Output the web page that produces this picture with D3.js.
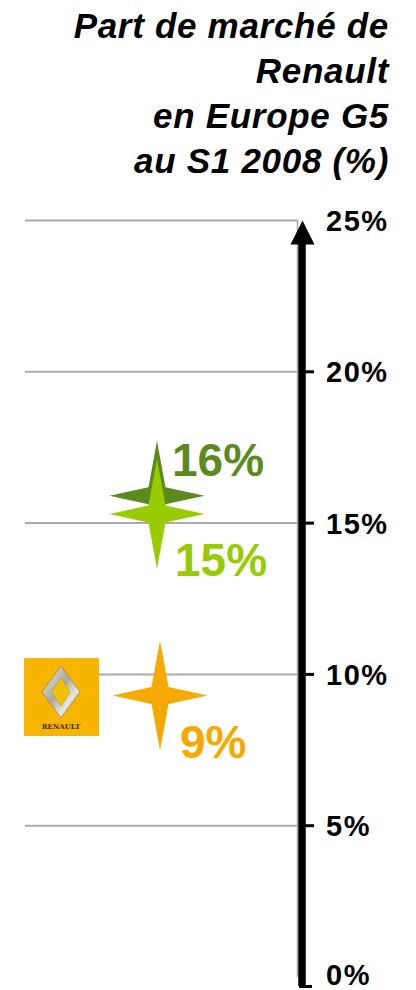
<!DOCTYPE html>
<html>
<head>
<meta charset="utf-8">
<script src="https://cdn.jsdelivr.net/npm/d3@7"></script>
<style>
  html, body { margin: 0; padding: 0; background: #fff; }
  svg { display: block; }
</style>
</head>
<body>
<svg id="chart"></svg>
<script>
// data
const titleLines = ["Part de marché de", "Renault", "en Europe G5", "au S1 2008 (%)"];
const tickValues = [0, 5, 10, 15, 20, 25];
const tickLabels = ["0%", "5%", "10%", "15%", "20%", "25%"];
const markers = ["a", "b", "renault"];
const markerValues = [15.9, 15.3, 9.3];
const markerLabels = ["16%", "15%", "9%"];

const width = 416, height = 990;
const svg = d3.select("#chart").attr("width", width).attr("height", height);

const colors = { a: "#5b8a1f", b: "#99cc00", renault: "#f6aa00" };
const labelPos = { a: [15, -20], b: [18, 62], renault: [20, 62] };
const starX = { a: 157, b: 157, renault: 160 };

const y = d3.scaleLinear().domain([0, 25]).range([977, 220.5]);
const axisX = 302;

// title
svg.append("text")
    .attr("text-anchor", "end")
    .attr("font-family", "Liberation Sans, Arial, sans-serif")
    .attr("font-weight", "bold")
    .attr("font-style", "italic")
    .style("font-size", "35px")
    .style("letter-spacing", "0.7px")
  .selectAll("tspan")
  .data(titleLines)
  .join("tspan")
    .attr("x", 389)
    .attr("y", (d, i) => 38 + i * 45)
    .text(d => d);

// gridlines
svg.selectAll(".grid")
  .data(tickValues.filter(d => d > 0))
  .join("line")
    .attr("class", "grid")
    .attr("x1", 25).attr("x2", axisX - 4)
    .attr("y1", d => y(d)).attr("y2", d => y(d))
    .attr("stroke", "#aaaaaa")
    .attr("stroke-width", 2);

// thin gray vertical line behind the arrow
svg.append("line")
  .attr("x1", axisX - 4.5).attr("x2", axisX - 4.5)
  .attr("y1", y(25)).attr("y2", y(0))
  .attr("stroke", "#aaaaaa").attr("stroke-width", 1.5);

// arrow shaft
svg.append("line")
  .attr("x1", axisX).attr("x2", axisX)
  .attr("y1", y(25) + 20).attr("y2", 986)
  .attr("stroke", "#000").attr("stroke-width", 7.5);

// arrow head
svg.append("path")
  .attr("d", `M${axisX + 0.5},${y(25)} L${axisX - 11.5},${y(25) + 24} L${axisX + 12.5},${y(25) + 24} Z`)
  .attr("fill", "#000");

// foot at the bottom
svg.append("path")
  .attr("d", `M${axisX - 3},987 L${axisX - 1},982 L${axisX + 2},982 L${axisX + 2},985 L${axisX + 10},985 L${axisX + 10},988 L${axisX - 3},988 Z`)
  .attr("fill", "#000");

// ticks
svg.selectAll(".tick")
  .data(tickValues.filter(d => d > 0 && d < 25))
  .join("line")
    .attr("class", "tick")
    .attr("x1", axisX + 3).attr("x2", axisX + 12)
    .attr("y1", d => y(d)).attr("y2", d => y(d))
    .attr("stroke", "#000").attr("stroke-width", 3);

svg.selectAll(".ticklabel")
  .data(tickValues)
  .join("text")
    .attr("class", "ticklabel")
    .attr("x", 326)
    .attr("y", d => y(d))
    .attr("dy", d => d === 0 ? "0.27em" : "0.36em")
    .attr("font-family", "Liberation Sans, Arial, sans-serif")
    .attr("font-weight", "bold")
    .style("font-size", "29px")
    .style("letter-spacing", "1.5px")
    .text((d, i) => tickLabels[i]);

// renault logo
const logo = svg.append("g").attr("transform", "translate(24,658)");
const defs = svg.append("defs");
const grad = defs.append("linearGradient").attr("id", "silver")
  .attr("x1", "0").attr("y1", "0").attr("x2", "1").attr("y2", "1");
grad.append("stop").attr("offset", "0%").attr("stop-color", "#f4f4f0");
grad.append("stop").attr("offset", "45%").attr("stop-color", "#a8a8a0");
grad.append("stop").attr("offset", "70%").attr("stop-color", "#e8e8e0");
grad.append("stop").attr("offset", "100%").attr("stop-color", "#707068");
logo.append("rect").attr("width", 75).attr("height", 78).attr("fill", "#f7b500");
logo.append("path")
  .attr("d", "M37,8 L56,34 L37,60 L18,34 Z M37,20 L28,34 L37,48 L46,34 Z")
  .attr("fill", "url(#silver)").attr("fill-rule", "evenodd")
  .attr("stroke", "#8a7a40").attr("stroke-width", 0.6);
logo.append("path")
  .attr("d", "M37,20 L46,34 L37,48 L28,34 Z")
  .attr("fill", "#f2c200");
logo.append("text")
  .attr("x", 37).attr("y", 71)
  .attr("text-anchor", "middle")
  .attr("font-family", "DejaVu Serif, serif")
  .attr("font-weight", "bold")
  .style("font-size", "7px")
  .attr("fill", "#3a2a10")
  .text("RENAULT");

// stars
const star = (h, v, w) => `M0,${-v} L${w},${-w} L${h},0 L${w},${w} L0,${v} L${-w},${w} L${-h},0 L${-w},${-w} Z`;

svg.selectAll(".star")
  .data(markers)
  .join("path")
    .attr("class", "star")
    .attr("transform", (d, i) => `translate(${starX[d]},${y(markerValues[i])})`)
    .attr("d", star(47.5, 55, 8.5))
    .attr("fill", d => colors[d]);

svg.selectAll(".mlabel")
  .data(markers)
  .join("text")
    .attr("class", "mlabel")
    .attr("x", d => starX[d] + labelPos[d][0])
    .attr("y", (d, i) => y(markerValues[i]) + labelPos[d][1])
    .attr("font-family", "Liberation Sans, Arial, sans-serif")
    .attr("font-weight", "bold")
    .style("font-size", "46px")
    .attr("fill", d => colors[d])
    .text((d, i) => markerLabels[i]);
</script>
</body>
</html>
